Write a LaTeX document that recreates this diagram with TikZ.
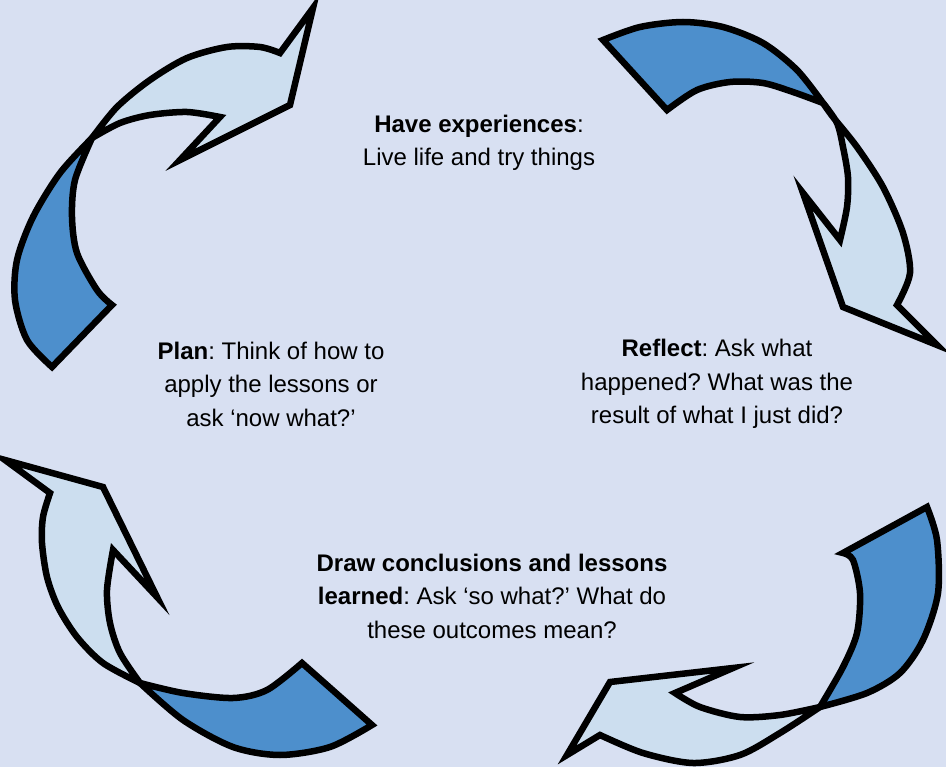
\documentclass[tikz,border=0pt]{standalone}
\usepackage{fontspec}
\setmainfont{Liberation Sans}
\definecolor{bgc}{HTML}{D8E0F2}
\definecolor{darkb}{HTML}{4D8FCC}
\definecolor{lightb}{HTML}{CCDEEF}
\frenchspacing
\begin{document}
\begin{tikzpicture}[x=1pt,y=-1pt,
  darkpart/.style={fill=darkb,draw=black,line width=6.5pt,line join=miter},
  lightpart/.style={fill=lightb,draw=black,line width=6.5pt,line join=miter},
  lbl/.style={align=center,font=\fontsize{24}{33.5}\selectfont,text=black,inner sep=0pt}]
\useasboundingbox (0,0) rectangle (946,767);
\fill[bgc] (0,0) rectangle (946,767);
% arrow 1 (top left)
\path[darkpart] (92,138) -- plot[smooth] coordinates {(92,138) (60,173) (33,217) (17,260) (15,300) (27,340) (52,367)}
  -- (112,305) -- plot[smooth] coordinates {(112,305) (97,290) (77,253) (72,217) (75,180) (92,138)} -- cycle;
\path[lightpart] (92,138) -- plot[smooth] coordinates {(92,138) (117,107) (150,80) (187,58) (227,47) (260,47) (280,53)}
  -- (313,8) -- (290,105) -- (180,160) -- (220,117)
  -- plot[smooth] coordinates {(220,117) (187,112) (150,115) (120,123) (92,138)} -- cycle;
% arrow 2 (top right)
\path[darkpart] (603,40) -- plot[smooth] coordinates {(603,40) (640,27) (683,22) (723,27) (763,43) (797,70) (823,103)}
  -- plot[smooth] coordinates {(823,103) (793,92) (763,83) (730,82) (697,90) (667,110)} -- cycle;
\path[lightpart] (823,103) -- plot[smooth] coordinates {(823,103) (833,117) (857,147) (883,187) (903,233) (910,273) (897,305)}
  -- (937,345) -- (843,307) -- (803,193) -- (840,240)
  -- plot[smooth] coordinates {(840,240) (847,207) (848,177) (843,147) (837,123) (823,103)} -- cycle;
% arrow 3 (bottom left)
\path[darkpart] (140,683) -- plot[smooth] coordinates {(140,683) (183,720) (233,747) (280,755) (330,747) (372,725)}
  -- (302,663) -- plot[smooth] coordinates {(302,663) (267,690) (233,698) (183,693) (140,683)} -- cycle;
\path[lightpart] (140,683) -- plot[smooth] coordinates {(140,683) (103,663) (77,637) (58,607) (47,577) (42,543) (43,517) (50,493)}
  -- (5,460) -- (103,487) -- (157,597) -- (113,550)
  -- plot[smooth] coordinates {(113,550) (107,590) (110,623) (120,653) (140,683)} -- cycle;
% arrow 4 (bottom right)
\path[darkpart] (927,507) -- plot[smooth] coordinates {(927,507) (937,540) (938,593) (923,640) (900,673) (867,693) (820,707)}
  -- plot[smooth] coordinates {(820,707) (843,667) (857,633) (860,593) (853,560) (843,553)} -- cycle;
\path[lightpart] (820,707) -- plot[smooth] coordinates {(820,707) (780,733) (740,755) (693,763) (643,753) (600,735)}
  -- (567,755) -- (610,682) -- (733,668) -- (675,693)
  -- plot[smooth] coordinates {(675,693) (700,707) (740,717) (780,715) (820,707)} -- cycle;
% labels
\node[lbl] (have) at (479,143) {\textbf{Have experiences}:\\Live life and try things};
\node[lbl] (plan) at (271,384) {\textbf{Plan}: Think of how to\\apply the lessons or\\ask ‘now what?’};
\node[lbl] (reflect) at (717,384) {\textbf{Reflect}: Ask what\\happened? What was the\\result of what I just did?};
\node[lbl] (draw) at (492,596) {\textbf{Draw conclusions and lessons}\\\textbf{learned}: Ask ‘so what?’ What do\\these outcomes mean?};
\end{tikzpicture}
\end{document}
